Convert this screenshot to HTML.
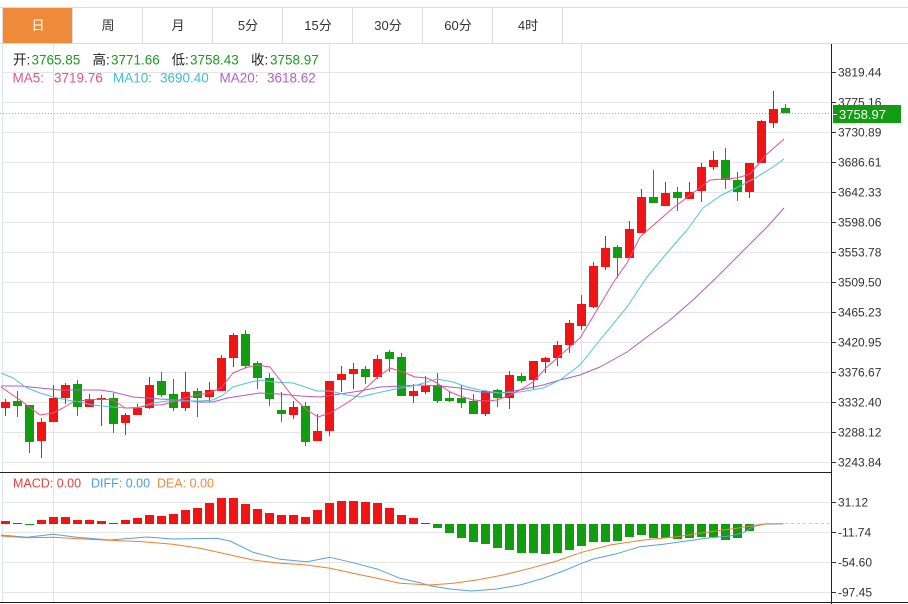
<!DOCTYPE html>
<html><head><meta charset="utf-8"><style>
html,body{margin:0;padding:0;background:#fff;width:908px;height:604px;overflow:hidden}
svg{display:block}
text{font-family:"Liberation Sans","Noto Sans CJK SC",sans-serif}
</style></head><body>
<svg width="908" height="604" viewBox="0 0 908 604" xmlns="http://www.w3.org/2000/svg">
<!-- tabs -->
<g shape-rendering="crispEdges">
<rect x="3" y="7" width="70" height="36" fill="#f08a3b"/>
<line x1="0" y1="7.5" x2="908" y2="7.5" stroke="#dcdcdc"/>
<line x1="0" y1="43.5" x2="908" y2="43.5" stroke="#dcdcdc"/>
<g stroke="#dcdcdc">
<line x1="2.5" y1="7" x2="2.5" y2="43"/><line x1="72.5" y1="7" x2="72.5" y2="43"/><line x1="142.5" y1="7" x2="142.5" y2="43"/><line x1="212.5" y1="7" x2="212.5" y2="43"/><line x1="282.5" y1="7" x2="282.5" y2="43"/><line x1="352.5" y1="7" x2="352.5" y2="43"/><line x1="422.5" y1="7" x2="422.5" y2="43"/><line x1="492.5" y1="7" x2="492.5" y2="43"/><line x1="562.5" y1="7" x2="562.5" y2="43"/>
</g>
</g>
<g font-size="13" text-anchor="middle" fill="#333">
<text x="38" y="30" fill="#fff">日</text>
<text x="108" y="30">周</text>
<text x="178" y="30">月</text>
<text x="248" y="30">5分</text>
<text x="318" y="30">15分</text>
<text x="388" y="30">30分</text>
<text x="458" y="30">60分</text>
<text x="528" y="30">4时</text>
</g>

<!-- grid -->
<g shape-rendering="crispEdges" stroke="#e6e6e6">
<line x1="3" y1="72.5" x2="831" y2="72.5"/><line x1="3" y1="102.5" x2="831" y2="102.5"/><line x1="3" y1="132.5" x2="831" y2="132.5"/><line x1="3" y1="162.5" x2="831" y2="162.5"/><line x1="3" y1="192.5" x2="831" y2="192.5"/><line x1="3" y1="222.5" x2="831" y2="222.5"/><line x1="3" y1="252.5" x2="831" y2="252.5"/><line x1="3" y1="282.5" x2="831" y2="282.5"/><line x1="3" y1="312.5" x2="831" y2="312.5"/><line x1="3" y1="342.5" x2="831" y2="342.5"/><line x1="3" y1="372.5" x2="831" y2="372.5"/><line x1="3" y1="402.5" x2="831" y2="402.5"/><line x1="3" y1="432.5" x2="831" y2="432.5"/><line x1="3" y1="462.5" x2="831" y2="462.5"/>
<line x1="3" y1="502.5" x2="831" y2="502.5"/><line x1="3" y1="532.5" x2="831" y2="532.5"/><line x1="3" y1="562.5" x2="831" y2="562.5"/><line x1="3" y1="592.5" x2="831" y2="592.5"/>
</g>
<g shape-rendering="crispEdges" stroke="#dde4ec">
<line x1="2.5" y1="43" x2="2.5" y2="602"/>
<line x1="53.5" y1="43" x2="53.5" y2="602"/>
<line x1="329.5" y1="43" x2="329.5" y2="602"/>
<line x1="581.5" y1="43" x2="581.5" y2="602"/>
</g>

<!-- info text -->
<g font-size="13.5">
<text y="64.5"><tspan x="13" fill="#222">开:</tspan><tspan x="31.5" fill="#1f9a1f">3765.85</tspan><tspan x="92.5" fill="#222">高:</tspan><tspan x="111" fill="#1f9a1f">3771.66</tspan><tspan x="171.5" fill="#222">低:</tspan><tspan x="190" fill="#1f9a1f">3758.43</tspan><tspan x="251" fill="#222">收:</tspan><tspan x="270" fill="#1f9a1f">3758.97</tspan></text>
<text y="82.5"><tspan x="12.5" fill="#e0558a">MA5:</tspan><tspan x="54" fill="#e0558a">3719.76</tspan><tspan x="113" fill="#3fbcd4">MA10:</tspan><tspan x="160" fill="#3fbcd4">3690.40</tspan><tspan x="219.5" fill="#b060c8">MA20:</tspan><tspan x="267" fill="#b060c8">3618.62</tspan></text>
</g>

<!-- last price dotted line -->
<line x1="0" y1="113.5" x2="831" y2="113.5" stroke="#6cc46c" stroke-dasharray="1,2" shape-rendering="crispEdges"/>

<!-- candles wicks -->
<g stroke-width="1" shape-rendering="crispEdges">
<g stroke="#f01414">
<line x1="5.5" y1="399" x2="5.5" y2="416"/><line x1="41.5" y1="418" x2="41.5" y2="458"/><line x1="53.5" y1="385" x2="53.5" y2="422"/><line x1="65.5" y1="383" x2="65.5" y2="404"/><line x1="89.5" y1="394" x2="89.5" y2="407"/><line x1="101.5" y1="395" x2="101.5" y2="426"/><line x1="125.5" y1="413" x2="125.5" y2="435"/><line x1="137.5" y1="404" x2="137.5" y2="415"/><line x1="149.5" y1="377" x2="149.5" y2="409"/><line x1="185.5" y1="372" x2="185.5" y2="411"/><line x1="209.5" y1="382" x2="209.5" y2="402"/><line x1="221.5" y1="355" x2="221.5" y2="391"/><line x1="233.5" y1="333" x2="233.5" y2="367"/><line x1="293.5" y1="401" x2="293.5" y2="419"/><line x1="317.5" y1="414" x2="317.5" y2="441"/><line x1="329.5" y1="381" x2="329.5" y2="436"/><line x1="341.5" y1="366" x2="341.5" y2="392"/><line x1="353.5" y1="363" x2="353.5" y2="389"/><line x1="377.5" y1="355" x2="377.5" y2="379"/><line x1="413.5" y1="384" x2="413.5" y2="403"/><line x1="425.5" y1="376" x2="425.5" y2="394"/><line x1="485.5" y1="390" x2="485.5" y2="416"/><line x1="509.5" y1="371" x2="509.5" y2="409"/><line x1="533.5" y1="361" x2="533.5" y2="389"/><line x1="545.5" y1="357" x2="545.5" y2="373"/><line x1="557.5" y1="341" x2="557.5" y2="366"/><line x1="569.5" y1="320" x2="569.5" y2="353"/><line x1="581.5" y1="295" x2="581.5" y2="330"/><line x1="593.5" y1="262" x2="593.5" y2="308"/><line x1="605.5" y1="236" x2="605.5" y2="270"/><line x1="629.5" y1="221" x2="629.5" y2="258"/><line x1="641.5" y1="189" x2="641.5" y2="233"/><line x1="665.5" y1="182" x2="665.5" y2="206"/><line x1="689.5" y1="182" x2="689.5" y2="199"/><line x1="701.5" y1="163" x2="701.5" y2="202"/><line x1="713.5" y1="151" x2="713.5" y2="170"/><line x1="749.5" y1="163" x2="749.5" y2="198"/><line x1="761.5" y1="120" x2="761.5" y2="163"/><line x1="773.5" y1="91" x2="773.5" y2="128"/>
</g>
<g stroke="#129c12">
<line x1="17.5" y1="391" x2="17.5" y2="417"/><line x1="29.5" y1="405" x2="29.5" y2="453"/><line x1="77.5" y1="380" x2="77.5" y2="416"/><line x1="113.5" y1="393" x2="113.5" y2="433"/><line x1="161.5" y1="372" x2="161.5" y2="397"/><line x1="173.5" y1="379" x2="173.5" y2="411"/><line x1="197.5" y1="388" x2="197.5" y2="417"/><line x1="245.5" y1="330" x2="245.5" y2="368"/><line x1="257.5" y1="361" x2="257.5" y2="389"/><line x1="269.5" y1="373" x2="269.5" y2="406"/><line x1="281.5" y1="392" x2="281.5" y2="422"/><line x1="305.5" y1="402" x2="305.5" y2="446"/><line x1="365.5" y1="366" x2="365.5" y2="384"/><line x1="389.5" y1="350" x2="389.5" y2="372"/><line x1="401.5" y1="353" x2="401.5" y2="396"/><line x1="437.5" y1="373" x2="437.5" y2="403"/><line x1="449.5" y1="391" x2="449.5" y2="402"/><line x1="461.5" y1="385" x2="461.5" y2="408"/><line x1="473.5" y1="394" x2="473.5" y2="414"/><line x1="497.5" y1="389" x2="497.5" y2="407"/><line x1="521.5" y1="373" x2="521.5" y2="383"/><line x1="617.5" y1="245" x2="617.5" y2="278"/><line x1="653.5" y1="170" x2="653.5" y2="203"/><line x1="677.5" y1="187" x2="677.5" y2="211"/><line x1="725.5" y1="148" x2="725.5" y2="189"/><line x1="737.5" y1="172" x2="737.5" y2="201"/><line x1="785.5" y1="104" x2="785.5" y2="113"/>
</g>
</g>
<!-- candle bodies -->
<g shape-rendering="crispEdges">
<g fill="#f01414">
<rect x="1" y="402" width="9" height="6"/><rect x="37" y="422" width="9" height="19"/><rect x="49" y="398" width="9" height="24"/><rect x="61" y="385" width="9" height="13"/><rect x="85" y="399" width="9" height="8"/><rect x="97" y="398" width="9" height="2"/><rect x="121" y="415" width="9" height="8"/><rect x="133" y="408" width="9" height="7"/><rect x="145" y="385" width="9" height="23"/><rect x="181" y="392" width="9" height="16"/><rect x="205" y="390" width="9" height="7"/><rect x="217" y="358" width="9" height="33"/><rect x="229" y="335" width="9" height="23"/><rect x="289" y="407" width="9" height="8"/><rect x="313" y="431" width="9" height="10"/><rect x="325" y="381" width="9" height="50"/><rect x="337" y="374" width="9" height="6"/><rect x="349" y="369" width="9" height="5"/><rect x="373" y="359" width="9" height="18"/><rect x="409" y="391" width="9" height="5"/><rect x="421" y="386" width="9" height="6"/><rect x="481" y="391" width="9" height="23"/><rect x="505" y="375" width="9" height="23"/><rect x="529" y="361" width="9" height="19"/><rect x="541" y="358" width="9" height="4"/><rect x="553" y="345" width="9" height="13"/><rect x="565" y="323" width="9" height="22"/><rect x="577" y="304" width="9" height="22"/><rect x="589" y="266" width="9" height="41"/><rect x="601" y="248" width="9" height="19"/><rect x="625" y="229" width="9" height="29"/><rect x="637" y="197" width="9" height="36"/><rect x="661" y="193" width="9" height="13"/><rect x="685" y="192" width="9" height="7"/><rect x="697" y="167" width="9" height="24"/><rect x="709" y="160" width="9" height="7"/><rect x="745" y="163" width="9" height="29"/><rect x="757" y="121" width="9" height="42"/><rect x="769" y="109" width="9" height="14"/>
</g>
<g fill="#129c12">
<rect x="13" y="401" width="9" height="5"/><rect x="25" y="405" width="9" height="37"/><rect x="73" y="384" width="9" height="23"/><rect x="109" y="398" width="9" height="26"/><rect x="157" y="381" width="9" height="14"/><rect x="169" y="394" width="9" height="14"/><rect x="193" y="391" width="9" height="7"/><rect x="241" y="334" width="9" height="32"/><rect x="253" y="363" width="9" height="15"/><rect x="265" y="378" width="9" height="21"/><rect x="277" y="410" width="9" height="4"/><rect x="301" y="406" width="9" height="36"/><rect x="361" y="369" width="9" height="8"/><rect x="385" y="352" width="9" height="7"/><rect x="397" y="357" width="9" height="39"/><rect x="433" y="385" width="9" height="16"/><rect x="445" y="398" width="9" height="3"/><rect x="457" y="398" width="9" height="5"/><rect x="469" y="401" width="9" height="13"/><rect x="493" y="390" width="9" height="8"/><rect x="517" y="376" width="9" height="5"/><rect x="613" y="247" width="9" height="11"/><rect x="649" y="197" width="9" height="6"/><rect x="673" y="192" width="9" height="6"/><rect x="721" y="160" width="9" height="20"/><rect x="733" y="180" width="9" height="12"/><rect x="781" y="108" width="9" height="5"/>
</g>
</g>

<!-- MA lines -->
<g fill="none" stroke-width="1" stroke-linejoin="round">
<polyline stroke="#b05cc8" points="1,386 20,386 40,388 60,390 80,390 100,390 113,392 133,397 147,398 160,399 180,400 200,402 213,402 227,398 240,396 260,393 280,394 300,396 320,397 340,394 360,391 380,387 400,386 420,385 440,386 460,388 480,392 500,393 520,390 543,385 560,380 580,375 600,367 627,352 647,337 670,320 693,300 717,277 747,247 767,227 784,208"/>
<polyline stroke="#4cc6d8" points="1,373 13,378 27,388 40,393 53,397 67,400 80,402 93,405 113,407 127,408 140,407 153,403 167,401 180,401 200,401 213,400 223,395 233,387 247,383 260,380 273,382 293,383 317,391 330,391 347,395 360,397 377,393 400,388 417,385 437,379 453,382 467,387 480,390 500,393 520,392 543,388 560,380 580,365 600,340 627,307 647,277 667,253 687,230 703,208 720,196 740,186 757,177 773,167 784,159"/>
<polyline stroke="#e8508a" points="1,387 20,400 40,415 53,413 63,408 73,402 87,400 100,399 113,400 125,408 137,408 149,405 161,405 173,402 185,398 197,395 209,393 221,388 233,373 245,368 257,365 270,367 280,380 293,397 307,410 318,417 330,413 342,406 353,399 367,387 378,377 390,368 403,372 415,377 427,378 437,383 450,392 460,396 473,400 487,401 497,400 510,395 520,390 533,382 547,367 563,353 580,338 597,310 613,283 627,263 640,237 657,222 673,208 693,193 710,180 723,179 737,178 750,174 767,154 784,139"/>
</g>

<!-- MACD bars -->
<g shape-rendering="crispEdges">
<g fill="#f01414">
<rect x="1" y="521" width="9" height="3"/><rect x="13" y="523" width="9" height="1"/><rect x="37" y="520" width="9" height="4"/><rect x="49" y="517" width="9" height="7"/><rect x="61" y="517" width="9" height="7"/><rect x="73" y="520" width="9" height="4"/><rect x="85" y="520" width="9" height="4"/><rect x="97" y="521" width="9" height="3"/><rect x="109" y="523" width="9" height="1"/><rect x="121" y="520" width="9" height="4"/><rect x="133" y="518" width="9" height="6"/><rect x="145" y="515" width="9" height="9"/><rect x="157" y="516" width="9" height="8"/><rect x="169" y="514" width="9" height="10"/><rect x="181" y="510" width="9" height="14"/><rect x="193" y="508" width="9" height="16"/><rect x="205" y="503" width="9" height="21"/><rect x="217" y="498" width="9" height="26"/><rect x="229" y="498" width="9" height="26"/><rect x="241" y="504" width="9" height="20"/><rect x="253" y="509" width="9" height="15"/><rect x="265" y="513" width="9" height="11"/><rect x="277" y="515" width="9" height="9"/><rect x="289" y="515" width="9" height="9"/><rect x="301" y="517" width="9" height="7"/><rect x="313" y="510" width="9" height="14"/><rect x="325" y="503" width="9" height="21"/><rect x="337" y="501" width="9" height="23"/><rect x="349" y="501" width="9" height="23"/><rect x="361" y="502" width="9" height="22"/><rect x="373" y="503" width="9" height="21"/><rect x="385" y="508" width="9" height="16"/><rect x="397" y="515" width="9" height="9"/><rect x="409" y="518" width="9" height="6"/><rect x="421" y="523" width="9" height="1"/>
</g>
<g fill="#129c12">
<rect x="25" y="524" width="9" height="1"/><rect x="433" y="524" width="9" height="4"/><rect x="445" y="524" width="9" height="9"/><rect x="457" y="524" width="9" height="14"/><rect x="469" y="524" width="9" height="18"/><rect x="481" y="524" width="9" height="20"/><rect x="493" y="524" width="9" height="24"/><rect x="505" y="524" width="9" height="26"/><rect x="517" y="524" width="9" height="29"/><rect x="529" y="524" width="9" height="29"/><rect x="541" y="524" width="9" height="30"/><rect x="553" y="524" width="9" height="29"/><rect x="565" y="524" width="9" height="26"/><rect x="577" y="524" width="9" height="22"/><rect x="589" y="524" width="9" height="18"/><rect x="601" y="524" width="9" height="18"/><rect x="613" y="524" width="9" height="17"/><rect x="625" y="524" width="9" height="13"/><rect x="637" y="524" width="9" height="11"/><rect x="649" y="524" width="9" height="14"/><rect x="661" y="524" width="9" height="14"/><rect x="673" y="524" width="9" height="15"/><rect x="685" y="524" width="9" height="14"/><rect x="697" y="524" width="9" height="13"/><rect x="709" y="524" width="9" height="13"/><rect x="721" y="524" width="9" height="16"/><rect x="733" y="524" width="9" height="14"/><rect x="745" y="524" width="9" height="7"/>
</g>
</g>
<line x1="785" y1="523.5" x2="831" y2="523.5" stroke="#c8c8c8" stroke-dasharray="3,3" shape-rendering="crispEdges"/>
<g fill="none" stroke-width="1" stroke-linejoin="round">
<polyline stroke="#5aa0e0" points="1,535 27,537.3 53,534.3 77,537.3 110,540 147,537 173,539 217,538.3 230,541 253,552.3 280,559.3 307,561.7 330,557.3 353,562.7 377,569 400,578.3 420,582.7 430,585.7 450,589 471.7,591 496.7,589 520,585 543.3,578.3 563.3,571 581.7,563.3 593.3,559 616.7,553.7 640,546.7 663.3,544.3 686.7,541 710,537.7 730,536 743.3,532.7 753.3,526.7 763.3,524.3 783.3,523.7"/>
<polyline stroke="#f08030" points="1,536 27,537.7 53,537.3 83,539 110,540.3 143,541.7 173,544.3 200,548.3 227,554.3 253,560 280,563.3 307,565 330,568.3 353,573.3 377,578.3 400,583.3 430,585 453.3,583.3 476.7,580 503.3,575 530,568.3 556.7,561 581.7,552.3 610,545 643.3,540 676.7,536.7 710,531.7 736.7,528.3 756.7,525 766.7,523.7 783.3,523.7"/>
</g>

<!-- MACD labels -->
<g font-size="12.5">
<text x="13" y="487.5" fill="#e8413c">MACD: 0.00</text>
<text x="91" y="487.5" fill="#4a9ee0">DIFF: 0.00</text>
<text x="157" y="487.5" fill="#f08a3a">DEA: 0.00</text>
</g>

<!-- frame lines -->
<g shape-rendering="crispEdges" stroke="#222">
<line x1="0" y1="472.5" x2="831" y2="472.5"/>
<line x1="0" y1="602.5" x2="908" y2="602.5"/>
<line x1="831.5" y1="44" x2="831.5" y2="604"/>
</g>
<!-- ticks -->
<g shape-rendering="crispEdges" stroke="#333">
<line x1="831" y1="72.5" x2="836" y2="72.5"/><line x1="831" y1="102.5" x2="836" y2="102.5"/><line x1="831" y1="132.5" x2="836" y2="132.5"/><line x1="831" y1="162.5" x2="836" y2="162.5"/><line x1="831" y1="192.5" x2="836" y2="192.5"/><line x1="831" y1="222.5" x2="836" y2="222.5"/><line x1="831" y1="252.5" x2="836" y2="252.5"/><line x1="831" y1="282.5" x2="836" y2="282.5"/><line x1="831" y1="312.5" x2="836" y2="312.5"/><line x1="831" y1="342.5" x2="836" y2="342.5"/><line x1="831" y1="372.5" x2="836" y2="372.5"/><line x1="831" y1="402.5" x2="836" y2="402.5"/><line x1="831" y1="432.5" x2="836" y2="432.5"/><line x1="831" y1="462.5" x2="836" y2="462.5"/>
<line x1="831" y1="502.5" x2="836" y2="502.5"/><line x1="831" y1="532.5" x2="836" y2="532.5"/><line x1="831" y1="562.5" x2="836" y2="562.5"/><line x1="831" y1="592.5" x2="836" y2="592.5"/>
</g>
<g font-size="12" fill="#333">
<text x="838" y="76.5">3819.44</text>
<text x="838" y="106.5">3775.16</text>
<text x="838" y="136.5">3730.89</text>
<text x="838" y="166.5">3686.61</text>
<text x="838" y="196.5">3642.33</text>
<text x="838" y="226.5">3598.06</text>
<text x="838" y="256.5">3553.78</text>
<text x="838" y="286.5">3509.50</text>
<text x="838" y="316.5">3465.23</text>
<text x="838" y="346.5">3420.95</text>
<text x="838" y="376.5">3376.67</text>
<text x="838" y="406.5">3332.40</text>
<text x="838" y="436.5">3288.12</text>
<text x="838" y="466.5">3243.84</text>
<text x="838" y="506.5">31.12</text>
<text x="838" y="536.5">-11.74</text>
<text x="838" y="566.5">-54.60</text>
<text x="838" y="596.5">-97.45</text>
</g>
<!-- last price box -->
<rect x="833" y="105" width="68" height="18" fill="#119c11" shape-rendering="crispEdges"/>
<line x1="833" y1="114.5" x2="837" y2="114.5" stroke="#fff" shape-rendering="crispEdges"/>
<text x="839" y="119" font-size="13" fill="#fff">3758.97</text>
</svg>
</body></html>
